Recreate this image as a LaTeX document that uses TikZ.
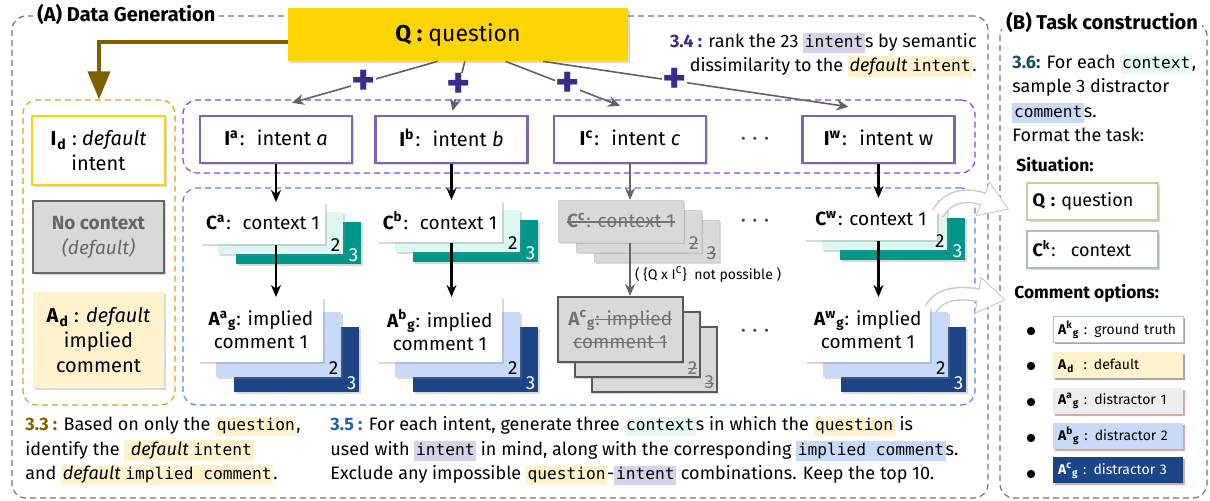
\documentclass[tikz,border=0pt]{standalone}
\usepackage{fontspec}
\setmainfont{Fira Sans}
\setsansfont{Fira Sans}
\setmonofont{DejaVu Sans Mono}[Scale=0.9]
\usetikzlibrary{calc,arrows.meta,positioning,shadows}

\definecolor{qgold}{HTML}{FFD500}
\definecolor{qbrown}{HTML}{7F6000}
\definecolor{defdash}{HTML}{D6A21E}
\definecolor{intdash}{HTML}{8E3FE0}
\definecolor{intline}{HTML}{7E64B8}
\definecolor{plusc}{HTML}{3E2A87}
\definecolor{ctxdash}{HTML}{4A86E8}
\definecolor{teal3}{HTML}{00978A}
\definecolor{mint}{HTML}{DDF8F0}
\definecolor{lblue}{HTML}{C9DAF8}
\definecolor{dblue}{HTML}{1C4587}
\definecolor{lgray}{HTML}{D9D9D9}
\definecolor{lyellow}{HTML}{FFF2CC}
\definecolor{hlpurple}{HTML}{D9D2E9}
\definecolor{hlmint}{HTML}{E6FAF2}
\definecolor{stepblue}{HTML}{2A5CAA}
\definecolor{stepteal}{HTML}{134F5C}
\definecolor{tanline}{HTML}{D6C79C}
\definecolor{ckline}{HTML}{A8BCC8}
\definecolor{optline}{HTML}{B4C3CE}

% highlighted words
\newcommand{\hlbox}[2]{{\setlength{\fboxsep}{0.8pt}\colorbox{#1}{\vphantom{Ag}#2}}}
\newcommand{\hlcode}[2]{\hlbox{#1}{\texttt{#2}}}
% struck-out text
\newcommand{\strikeout}[1]{{\setbox0=\hbox{#1}\rlap{\rule[0.28em]{\wd0}{0.55pt}}\box0}}
% symbol with sup- and subscript
\newcommand{\vname}[3]{\textbf{#1\textsuperscript{#2}\textsubscript{#3}}}
\newcommand{\cardnum}[1]{#1}
\newcommand{\threedots}{\textbullet\hspace{3.5pt}\textbullet\hspace{3.5pt}\textbullet}
% stack of three cards: name, front top-left, step, family, front options, text
\newcommand{\cardstack}[6]{%
  \node[#4/back, anchor=north west] (#1-3) at ($#2+2*#3$) {};
  \node[#4/n3, anchor=south east] at (#1-3.south east) {\cardnum{3}};
  \node[#4/mid, anchor=north west] (#1-2) at ($#2+#3$) {};
  \node[#4/n2, anchor=south east] at (#1-2.south east) {\cardnum{2}};
  \node[#4/front, anchor=north west, #5] (#1) at #2 {#6};
}

\tikzset{
  frame/.style={draw=#1, dash pattern=on 3pt off 2pt, line width=0.6pt, rounded corners=7pt, inner sep=0pt},
  title/.style={fill=white, font=\fontsize{10}{12}\selectfont\bfseries, inner sep=2pt},
  subtitle/.style={font=\fontsize{8.7}{10}\selectfont\bfseries, inner sep=1pt},
  para/.style={align=left, inner sep=0pt},
  shade/.style={drop shadow={shadow xshift=0.8pt, shadow yshift=-1pt, opacity=0.3}},
  qbox/.style={fill=qgold, shade, minimum width=170pt, minimum height=26.5pt, font=\fontsize{11.5}{13}\selectfont},
  brownarrow/.style={draw=qbrown, line width=2pt, -{Triangle[length=14pt,width=11pt]}},
  qline/.style={draw=black!62, line width=0.8pt, -{Stealth[length=6pt,width=5.5pt]}},
  plus/.style={fill=white, text=plusc, font=\fontsize{23}{23}\selectfont\bfseries, inner sep=0pt},
  intentbox/.style={draw=intline, line width=1.2pt, fill=white, shade, minimum width=76pt, minimum height=23.5pt, font=\fontsize{10}{12}\selectfont},
  idbox/.style={draw=qgold, line width=1.4pt, fill=white, shade, minimum width=66.5pt, minimum height=34.5pt, align=center, font=\fontsize{10}{12.5}\selectfont},
  nobox/.style={draw=black!60, line width=0.8pt, fill=lgray, shade, minimum width=65.5pt, minimum height=36pt, align=center, text=black!60, font=\fontsize{9.5}{12.5}\selectfont},
  adbox/.style={fill=lyellow, shade, minimum width=65.5pt, minimum height=48pt, align=center, font=\fontsize{10}{12.5}\selectfont},
  dots/.style={text=black!70, font=\fontsize{7}{7}\selectfont},
  flow/.style={line width=1.1pt, -{Stealth[length=6pt,width=5pt]}},
  gflow/.style={flow, draw=black!60},
  fatshade/.style={draw=black!22, line width=6.9pt, -{Triangle[length=14.4pt,width=17.8pt]}},
  fatbody/.style={draw=white, line width=5.5pt, shorten >=0.9pt, -{Triangle[length=13pt,width=16pt]}},
  card/.style={shade, inner sep=1pt, align=center, minimum width=62.5pt, font=\fontsize{9.5}{11.5}\selectfont},
  cnum/.style={font=\fontsize{9.5}{10}\selectfont, inner sep=1.5pt},
  ctx/back/.style={card, fill=teal3, minimum height=21pt},
  ctx/mid/.style={card, fill=mint, minimum height=21pt},
  ctx/front/.style={card, fill=white, minimum height=21pt},
  ctx/n2/.style={cnum},
  ctx/n3/.style={cnum, text=white},
  ans/back/.style={card, fill=dblue, minimum height=32.5pt},
  ans/mid/.style={card, fill=lblue, minimum height=32.5pt},
  ans/front/.style={card, fill=white, minimum height=32.5pt},
  ans/n2/.style={cnum},
  ans/n3/.style={cnum, text=white},
  nctx/back/.style={card, fill=lgray, draw=black!18, minimum height=21pt},
  nctx/mid/.style={nctx/back},
  nctx/front/.style={nctx/back, text=black!55},
  nctx/n2/.style={cnum, text=black!55, execute at begin node=\let\cardnum\strikeout},
  nctx/n3/.style={nctx/n2},
  nans/back/.style={card, fill=lgray, draw=black!65, line width=0.8pt, minimum height=32.5pt},
  nans/mid/.style={nans/back},
  nans/front/.style={nans/back, text=black!55},
  nans/n2/.style={nctx/n2},
  nans/n3/.style={nctx/n2},
  sitbox/.style={fill=white, line width=0.8pt, shade, text width=60pt, align=left, inner xsep=2.75pt, minimum height=18.5pt, font=\fontsize{9}{11}\selectfont},
  optbox/.style={text width=60pt, align=left, inner xsep=2.5pt, inner ysep=0pt, minimum height=13pt, font=\fontsize{7}{8}\selectfont},
  optshade/.style={drop shadow={shadow xshift=0.8pt, shadow yshift=-0.8pt, opacity=0.35, fill=#1}},
  bullet/.style={circle, fill=black, inner sep=0pt, minimum size=4.2pt},
}

\begin{document}
\begin{tikzpicture}[x=0.5pt, y=-0.5pt, font=\fontsize{9}{12.2}\selectfont]
  \useasboundingbox (0,0) rectangle (1210,501);

  % outer frames
  \node[frame=black!55, minimum width=488pt, minimum height=241pt] (datagen) at (500,257) {};
  \node[frame=black!55, minimum width=103.5pt, minimum height=238pt] (taskcon) at (1103.5,260) {};
  \node[title, anchor=west] (titleA) at (33,15) {(A) Data Generation};
  \node[title, anchor=west] (titleB) at (1002,23) {(B) Task construction};

  % dashed groups
  \node[frame=defdash, minimum width=76pt, minimum height=152.5pt] (defgroup) at (99,252.5) {};
  \node[frame=intdash, minimum width=396pt, minimum height=36.5pt] (intgroup) at (579,136.5) {};
  \node[frame=ctxdash, minimum width=396pt, minimum height=108.5pt] (ctxgroup) at (579,296.5) {};

  % question
  \node[qbox] (q) at (458,34.5) {\textbf{Q :} question};
  \draw[brownarrow] ($(q.west)+(0,8)$) -| (defgroup.north);

  % defaults
  \node[idbox] (idef) at (98.5,150.5) {\vname{I}{}{d} :~\textit{default}\\intent};
  \node[nobox] (noctx) at (98.5,237) {\textbf{No context}\\\textit{(default)}};
  \node[adbox] (adef) at (98.5,340) {\vname{A}{}{d} : \textit{default}\\implied\\comment};

  % intents
  \node[intentbox] (ia) at (276,139.5) {\vname{I}{a}{}:~ intent \textit{a}};
  \node[intentbox] (ib) at (451.5,139.5) {\vname{I}{b}{}:~ intent \textit{b}};
  \node[intentbox] (ic) at (630,139.5) {\vname{I}{c}{}:~ intent \textit{c}};
  \node[dots] (idots) at (755,140) {\threedots};
  \node[intentbox] (iw) at (878.5,139.5) {\vname{I}{w}{}:~ intent w};

  \draw[qline] ($(q.south west)!0.44!(q.south east)$) -- node[plus, pos=0.51] (pa) {+} ($(ia.north)+(16,-12)$);
  \draw[qline] ($(q.south west)!0.52!(q.south east)$) -- node[plus, pos=0.5] (pb) {+} ($(ib.north)+(1,-4)$);
  \draw[qline] ($(q.south west)!0.64!(q.south east)$) -- node[plus, pos=0.54] (pc) {+} ($(ic.north)+(-10,-9)$);
  \draw[qline] ($(q.south west)!0.75!(q.south east)$) -- node[plus, pos=0.43] (pw) {+} ($(iw.north)+(-30,-8)$);

  % contexts
  \cardstack{ca}{(200,202)}{(18,10)}{ctx}{}{\vname{C}{a}{}:~ context 1}
  \cardstack{cb}{(377,200)}{(18,10)}{ctx}{}{\vname{C}{b}{}:~ context 1}
  \cardstack{cc}{(558,200)}{(18,10)}{nctx}{}{\strikeout{\vname{C}{c}{}: context 1}}
  \node[dots] (cdots) at (755,222) {\threedots};
  \cardstack{cw}{(804,198)}{(18,10)}{ctx}{minimum width=66.5pt}{\vname{C}{w}{}: context 1}

  % implied comments
  \cardstack{aa}{(198,297)}{(18,15)}{ans}{}{\vname{A}{a}{g}: implied\\comment 1}
  \cardstack{ab}{(377,297)}{(18,15)}{ans}{}{\vname{A}{b}{g}: implied\\comment 1}
  \cardstack{ac}{(557,296)}{(17,15)}{nans}{}{\vname{A}{c}{g}\strikeout{: implied}\\\strikeout{comment 1}}
  \node[dots] (adots) at (755,332) {\threedots};
  \cardstack{aw}{(805,297)}{(18,15)}{ans}{}{\vname{A}{w}{g}: implied\\comment 1}

  % arrows down
  \draw[flow] (ia.south) -- (ia.south |- ca.north);
  \draw[flow] (ib.south) -- (ib.south |- cb.north);
  \draw[gflow] (ic.south) -- (ic.south |- cc.north);
  \draw[flow] (iw.south) -- (iw.south |- cw.north);
  \draw[flow] (ia.south |- ca.south) -- (ia.south |- aa.north);
  \draw[flow] (ib.south |- cb.south) -- (ib.south |- ab.north);
  \draw[gflow] (ic.south |- cc.south) -- node[right, pos=0.6, font=\fontsize{7}{8}\selectfont, inner sep=2pt] (nopos) {( \{Q x I\textsuperscript{C}\}~ not possible )} (ic.south |- ac.north);
  \draw[flow] (iw.south |- cw.south) -- (iw.south |- aw.north);

  % step texts
  \node[para, anchor=east, align=right] (step34) at (977,55) {\textbf{\color{plusc}3.4 :} rank the 23 \hlcode{hlpurple}{intent}s by semantic\\dissimilarity to the \hlbox{lyellow}{\textit{default} \texttt{intent}}.};
  \node[para, anchor=west] (step33) at (25,451) {\textbf{\color{qbrown}3.3 :} Based on only the \hlcode{lyellow}{question},\\identify the \hlbox{lyellow}{~\textit{default} \texttt{intent}}\\and \hlbox{lyellow}{\textit{default} \texttt{implied comment}}.};
  \node[para, anchor=west] (step35) at (330,451) {\textbf{\color{stepblue}3.5 :} For each intent, generate three \hlcode{hlmint}{context}s in which the \hlcode{lyellow}{question} is\\used with \hlcode{hlpurple}{intent} in mind, along with the corresponding \hlcode{lblue}{implied comment}s.\\Exclude any impossible \hlcode{lyellow}{question}-\hlcode{hlpurple}{intent} combinations. Keep the top 10.};

  % task construction
  \node[para, anchor=west] (step36) at (1012,98) {\textbf{\color{stepteal}3.6:} For each \hlcode{hlmint}{context},\\sample 3 distractor\\\hlcode{lblue}{comment}s.\\Format the task:};
  \node[subtitle, anchor=west] (sittitle) at (1014,165) {Situation:};
  \node[sitbox, draw=tanline] (sitq) at (1092.5,201.5) {\textbf{Q :} question};
  \node[sitbox, draw=ckline] (sitc) at (1092.5,249.5) {\vname{C}{k}{}:~ context};
  \node[subtitle, anchor=west] (optitle) at (1012,293) {Comment options:};

  \node[optbox, draw=optline, fill=white, optshade=black] (opt1) at (1118,329.5) {\vname{A}{k}{g} : ground truth};
  \node[optbox, fill=lyellow, optshade=black] (opt2) at (1118,365.5) {\vname{A}{}{d}~ : default};
  \node[optbox, fill=black!7, optshade=red!60!black] (opt3) at (1118,401) {\vname{A}{a}{g} : distractor 1};
  \node[optbox, fill=lblue, optshade=red!60!black] (opt4) at (1118,436) {\vname{A}{b}{g} : distractor 2};
  \node[optbox, fill=dblue, text=white, optshade=red!60!black] (opt5) at (1118,470.5) {\vname{A}{c}{g} : distractor 3};
  \node[bullet] (b1) at (1031,331) {};
  \node[bullet] (b2) at (1031,366) {};
  \node[bullet] (b3) at (1031,402) {};
  \node[bullet] (b4) at (1031,438) {};
  \node[bullet] (b5) at (1031,474) {};

  % hand-over arrows
  \draw[fatshade] ($(cw.east)+(0,-6)$) .. controls +(15,-25) and +(-30,-12) .. ($(sitq.west)+(-17,8)$);
  \draw[fatbody] ($(cw.east)+(0,-6)$) .. controls +(15,-25) and +(-30,-12) .. ($(sitq.west)+(-17,8)$);
  \draw[fatshade] ($(aw.north east)+(0,12)$) .. controls +(12,-22) and +(-30,-5) .. ($(optitle.west)+(-6,7)$);
  \draw[fatbody] ($(aw.north east)+(0,12)$) .. controls +(12,-22) and +(-30,-5) .. ($(optitle.west)+(-6,7)$);
\end{tikzpicture}
\end{document}
